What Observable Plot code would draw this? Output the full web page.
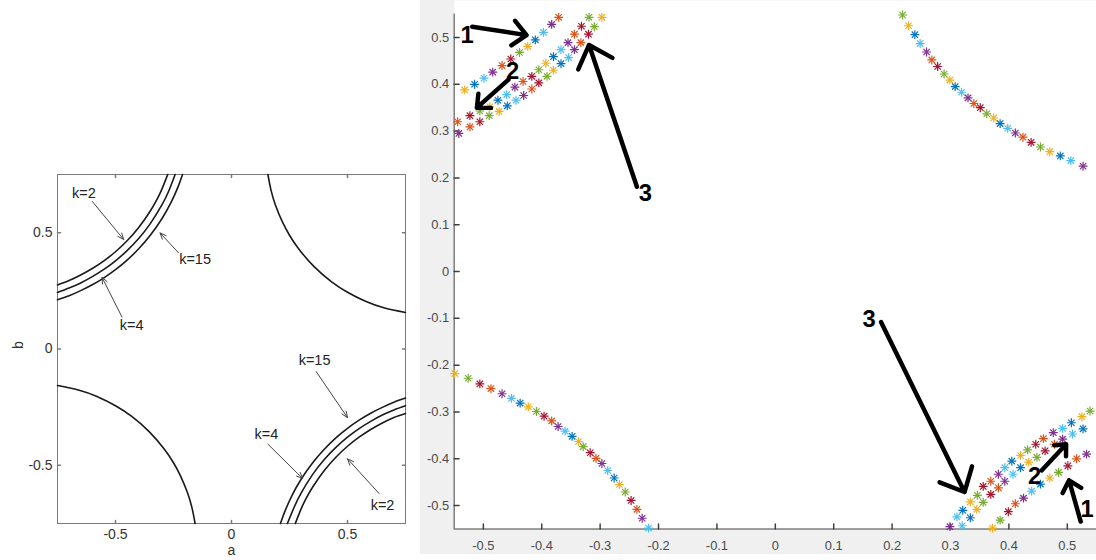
<!DOCTYPE html>
<html><head><meta charset="utf-8">
<script src="https://cdn.jsdelivr.net/npm/d3@7"></script>
<script src="https://cdn.jsdelivr.net/npm/@observablehq/plot@0.6"></script>
<style>
html,body{margin:0;padding:0;width:1096px;height:560px;overflow:hidden;background:#fff;font-family:"Liberation Sans",Arial,sans-serif;}
#left{position:absolute;left:0;top:150px;}
#right{position:absolute;left:420px;top:0;}
</style></head><body>
<div id="left"></div><div id="right"></div>
<script>
// ---------- LEFT PANEL DATA ----------
const leftTicks = [-0.5, 0, 0.5];
const leftTickLabels = ["-0.5", "0", "0.5"];

// single curves (a, b)
const curveTR_a = [0.157, 0.17, 0.19, 0.22, 0.25, 0.29, 0.355, 0.43, 0.50, 0.58, 0.66, 0.75];
const curveTR_b = [0.75, 0.684, 0.617, 0.545, 0.489, 0.43, 0.355, 0.29, 0.244, 0.204, 0.176, 0.157];
const curveBL_a = [-0.75, -0.66, -0.58, -0.50, -0.43, -0.355, -0.29, -0.25, -0.22, -0.19, -0.17, -0.157];
const curveBL_b = [-0.157, -0.176, -0.204, -0.244, -0.29, -0.355, -0.43, -0.489, -0.545, -0.617, -0.684, -0.75];

// three-curve family, top-left (k=2 nearest the corner)
const tlOuter_a = [-0.75, -0.70, -0.65, -0.60, -0.55, -0.50, -0.45, -0.40, -0.35, -0.32, -0.30, -0.275];
const tlOuter_b = [0.275, 0.294, 0.318, 0.346, 0.379, 0.418, 0.465, 0.522, 0.593, 0.645, 0.687, 0.75];
const tlMid_a = [-0.75, -0.70, -0.65, -0.60, -0.55, -0.50, -0.45, -0.40, -0.35, -0.30, -0.27, -0.243];
const tlMid_b = [0.243, 0.262, 0.284, 0.311, 0.342, 0.379, 0.423, 0.475, 0.539, 0.619, 0.680, 0.75];
const tlInner_a = [-0.75, -0.70, -0.65, -0.60, -0.55, -0.50, -0.45, -0.40, -0.35, -0.30, -0.26, -0.23, -0.211];
const tlInner_b = [0.212, 0.229, 0.251, 0.276, 0.306, 0.341, 0.382, 0.431, 0.489, 0.560, 0.631, 0.698, 0.75];
// three-curve family, bottom-right
const brOuter_a = [0.275, 0.30, 0.32, 0.35, 0.40, 0.45, 0.50, 0.55, 0.60, 0.65, 0.70, 0.75];
const brOuter_b = [-0.75, -0.687, -0.645, -0.593, -0.522, -0.465, -0.418, -0.379, -0.346, -0.318, -0.294, -0.277];
const brMid_a = [0.241, 0.27, 0.30, 0.35, 0.40, 0.45, 0.50, 0.55, 0.60, 0.65, 0.70, 0.75];
const brMid_b = [-0.75, -0.680, -0.619, -0.539, -0.475, -0.423, -0.379, -0.342, -0.311, -0.284, -0.262, -0.244];
const brInner_a = [0.211, 0.23, 0.26, 0.30, 0.35, 0.40, 0.45, 0.50, 0.55, 0.60, 0.65, 0.70, 0.75];
const brInner_b = [-0.75, -0.698, -0.631, -0.560, -0.489, -0.431, -0.382, -0.341, -0.306, -0.276, -0.251, -0.229, -0.211];

const leftNoteText = ["k=2", "k=15", "k=4", "k=15", "k=4", "k=2"];
const leftNoteX = [-0.636, -0.157, -0.43, 0.358, 0.15, 0.651];
const leftNoteY = [0.67, 0.386, 0.102, -0.047, -0.366, -0.671];
const leftArrowX1 = [-0.60, -0.229, -0.472, 0.365, 0.157, 0.636];
const leftArrowY1 = [0.634, 0.414, 0.137, -0.097, -0.409, -0.621];
const leftArrowX2 = [-0.465, -0.308, -0.558, 0.5, 0.307, 0.5];
const leftArrowY2 = [0.471, 0.499, 0.308, -0.295, -0.557, -0.472];

// ---------- RIGHT PANEL DATA ----------
const rightTicks = [-0.5, -0.4, -0.3, -0.2, -0.1, 0, 0.1, 0.2, 0.3, 0.4, 0.5];
const rightTickLabels = ["-0.5", "-0.4", "-0.3", "-0.2", "-0.1", "0", "0.1", "0.2", "0.3", "0.4", "0.5"];
const palette = {B: "#0072BD", O: "#D95319", Y: "#EDB120", P: "#7E2F8E", G: "#77AC30", C: "#4DBEEE", R: "#A2142F"};

const trA = [0.218,0.228,0.239,0.248,0.259,0.268,0.278,0.289,0.299,0.308,0.319,0.330,0.340,0.351,0.362,0.374,0.385,0.398,0.411,0.424,0.438,0.454,0.470,0.488,0.506,0.527];
const trB = [0.548,0.525,0.506,0.487,0.469,0.452,0.438,0.422,0.409,0.395,0.383,0.371,0.359,0.350,0.337,0.328,0.316,0.306,0.296,0.287,0.276,0.266,0.256,0.247,0.237,0.225];
const trColors = "GYBCPORGYBCPORGYBCPORGYBCP";

const blA = [-0.549,-0.526,-0.506,-0.487,-0.468,-0.452,-0.437,-0.423,-0.409,-0.396,-0.383,-0.372,-0.360,-0.348,-0.337,-0.329,-0.317,-0.307,-0.297,-0.287,-0.276,-0.267,-0.257,-0.247,-0.237,-0.228,-0.217];
const blB = [-0.218,-0.228,-0.240,-0.250,-0.261,-0.271,-0.281,-0.289,-0.299,-0.309,-0.319,-0.331,-0.341,-0.352,-0.363,-0.374,-0.387,-0.399,-0.410,-0.425,-0.441,-0.455,-0.471,-0.489,-0.508,-0.527,-0.548];
const blColors = "YGROPCBYGROPCBYGROPCBYGROPC";

const tl1A = [-0.532,-0.515,-0.499,-0.484,-0.468,-0.453,-0.438,-0.424,-0.411,-0.397,-0.383,-0.371];
const tl1B = [0.388,0.400,0.413,0.426,0.440,0.454,0.468,0.481,0.495,0.511,0.528,0.543];
const tl1Colors = "YBCPORGYBCPO";
const tl2A = [-0.544,-0.523,-0.506,-0.489,-0.475,-0.460,-0.446,-0.432,-0.417,-0.405,-0.393,-0.380,-0.367,-0.355,-0.344,-0.332,-0.319];
const tl2B = [0.320,0.333,0.343,0.352,0.366,0.378,0.394,0.406,0.417,0.431,0.445,0.459,0.474,0.489,0.507,0.524,0.543];
const tl2Colors = "ORGYBCPORGYBCPORG";
const tl3A = [-0.542,-0.523,-0.506,-0.490,-0.473,-0.459,-0.444,-0.431,-0.417,-0.405,-0.391,-0.380,-0.367,-0.354,-0.344,-0.333,-0.320,-0.310,-0.297];
const tl3B = [0.295,0.309,0.320,0.333,0.342,0.354,0.366,0.376,0.390,0.403,0.417,0.430,0.444,0.457,0.474,0.489,0.507,0.523,0.543];
const tl3Colors = "PORGYBCPORGYBCPORGY";

const br1A = [0.372,0.385,0.399,0.411,0.425,0.439,0.454,0.470,0.485,0.501,0.516,0.533];
const br1B = [-0.548,-0.531,-0.513,-0.496,-0.484,-0.469,-0.454,-0.441,-0.429,-0.415,-0.400,-0.390];
const br1Colors = "YGROPCBYGROP";
const br3A = [0.299,0.311,0.321,0.334,0.346,0.356,0.369,0.382,0.393,0.405,0.420,0.432,0.446,0.459,0.476,0.492,0.507,0.525,0.539];
const br3B = [-0.545,-0.524,-0.510,-0.492,-0.478,-0.459,-0.448,-0.433,-0.419,-0.405,-0.393,-0.381,-0.369,-0.357,-0.344,-0.335,-0.323,-0.310,-0.298];
const br3Colors = "PCBYGROPCBYGROPCBYG";
const br2A = [0.320,0.334,0.345,0.356,0.369,0.382,0.393,0.407,0.420,0.434,0.448,0.462,0.478,0.492,0.509,0.527];
const br2B = [-0.543,-0.526,-0.508,-0.493,-0.476,-0.462,-0.448,-0.433,-0.419,-0.407,-0.397,-0.383,-0.369,-0.358,-0.347,-0.336];
const br2Colors = "CBYGROPCBYGROPCB";

const numText = ["1", "2", "3", "3", "2", "1"];
const numX = [-0.528, -0.450, -0.2225, 0.1605, 0.444, 0.534];
const numY = [0.504, 0.428, 0.167, -0.103, -0.438, -0.508];
const numArrowX1 = [-0.519, -0.457, -0.237, 0.181, 0.456, 0.523];
const numArrowY1 = [0.523, 0.410, 0.181, -0.108, -0.425, -0.534];
const numArrowX2 = [-0.426, -0.511, -0.319, 0.324, 0.498, 0.503];
const numArrowY2 = [0.505, 0.350, 0.484, -0.471, -0.369, -0.446];

// ---------- BUILD TABLES ----------
const font = '"Liberation Sans", Arial, sans-serif';
function pairs(id, as, bs) { return as.map((a, i) => ({id, a, b: bs[i]})); }
const leftRows = [
  ...pairs("tr", curveTR_a, curveTR_b), ...pairs("bl", curveBL_a, curveBL_b),
  ...pairs("tlo", tlOuter_a, tlOuter_b), ...pairs("tlm", tlMid_a, tlMid_b), ...pairs("tli", tlInner_a, tlInner_b),
  ...pairs("bro", brOuter_a, brOuter_b), ...pairs("brm", brMid_a, brMid_b), ...pairs("bri", brInner_a, brInner_b)
];
const leftNotes = leftNoteText.map((t, i) => ({t, x: leftNoteX[i], y: leftNoteY[i]}));
const leftArrows = leftArrowX1.map((x1, i) => ({x1, y1: leftArrowY1[i], x2: leftArrowX2[i], y2: leftArrowY2[i]}));
const lbl = (ticks, labels) => d => labels[ticks.findIndex(t => Math.abs(t - d) < 1e-9)];
const tickLine = {r: 0, anchor: "start"};

const left = Plot.plot({
  width: 420, height: 410,
  marginLeft: 57, marginRight: 15, marginTop: 24, marginBottom: 37,
  x: {domain: [-0.75, 0.75]}, y: {domain: [-0.75, 0.75]},
  style: {fontFamily: font, fontSize: "14px", color: "#333", background: "white", overflow: "visible"},
  marks: [
    Plot.frame({stroke: "#7a7a7a", strokeWidth: 1}),
    Plot.vector(leftTicks, {x: d => d, frameAnchor: "bottom", length: 3, rotate: 0, stroke: "#7a7a7a", ...tickLine}),
    Plot.vector(leftTicks, {x: d => d, frameAnchor: "top", length: 3, rotate: 180, stroke: "#7a7a7a", ...tickLine}),
    Plot.vector(leftTicks, {y: d => d, frameAnchor: "left", length: 3, rotate: 90, stroke: "#7a7a7a", ...tickLine}),
    Plot.vector(leftTicks, {y: d => d, frameAnchor: "right", length: 3, rotate: 270, stroke: "#7a7a7a", ...tickLine}),
    Plot.axisX({ticks: leftTicks, tickSize: 0, tickPadding: 6, tickFormat: lbl(leftTicks, leftTickLabels), label: null}),
    Plot.axisY({ticks: leftTicks, tickSize: 0, tickPadding: 5, tickFormat: lbl(leftTicks, leftTickLabels), label: null}),
    Plot.line(leftRows, {x: "a", y: "b", z: "id", curve: "natural", stroke: "#1a1a1a", strokeWidth: 1.6}),
    Plot.arrow(leftArrows, {x1: "x1", y1: "y1", x2: "x2", y2: "y2", stroke: "#444", strokeWidth: 1, headLength: 10, headAngle: 45}),
    Plot.text(leftNotes, {x: "x", y: "y", text: "t", fontSize: 14.5, fill: "#222"}),
    Plot.text(["a"], {text: d => d, frameAnchor: "bottom", dy: 31, fontSize: 14, fill: "#333"}),
    Plot.text(["b"], {text: d => d, frameAnchor: "left", dx: -39, rotate: -90, fontSize: 14, fill: "#333"})
  ]
});
document.getElementById("left").append(left);

function stars(as, bs, cs) { return as.map((a, i) => ({a, b: bs[i], c: palette[cs[i]]})); }
const starRows = [
  ...stars(trA, trB, trColors), ...stars(blA, blB, blColors),
  ...stars(tl1A, tl1B, tl1Colors), ...stars(tl2A, tl2B, tl2Colors), ...stars(tl3A, tl3B, tl3Colors),
  ...stars(br1A, br1B, br1Colors), ...stars(br2A, br2B, br2Colors), ...stars(br3A, br3B, br3Colors)
];
const nums = numText.map((t, i) => ({t, x: numX[i], y: numY[i]}));
const numArrows = numArrowX1.map((x1, i) => ({x1, y1: numArrowY1[i], x2: numArrowX2[i], y2: numArrowY2[i]}));

const right = Plot.plot({
  width: 683, height: 560,
  marginLeft: 34, marginRight: 0, marginTop: 0, marginBottom: 26,
  x: {domain: [-0.55, 0.55]}, y: {domain: [-0.55, 0.579]},
  color: {type: "identity"},
  style: {fontFamily: font, fontSize: "13px", color: "#4a4a4a", background: "#f0f0f0", overflow: "visible"},
  marks: [
    Plot.frame({fill: "white"}),
    Plot.ruleX([-0.55], {y1: -0.55, y2: 0.55, stroke: "#404040"}),
    Plot.ruleY([-0.55], {stroke: "#404040"}),
    Plot.vector(rightTicks, {x: d => d, frameAnchor: "bottom", length: 5, rotate: 0, stroke: "#404040", ...tickLine}),
    Plot.vector(rightTicks, {y: d => d, frameAnchor: "left", length: 5, rotate: 90, stroke: "#404040", ...tickLine}),
    Plot.axisX({ticks: rightTicks, tickSize: 0, tickPadding: 12, tickFormat: lbl(rightTicks, rightTickLabels), label: null}),
    Plot.axisY({ticks: rightTicks, tickSize: 0, tickPadding: 5, tickFormat: lbl(rightTicks, rightTickLabels), label: null}),
    Plot.dot(starRows, {x: "a", y: "b", stroke: "c", symbol: "plus", r: 3.0, strokeWidth: 1.2}),
    Plot.dot(starRows, {x: "a", y: "b", stroke: "c", symbol: "times", r: 3.0, strokeWidth: 1.2}),
    Plot.arrow(numArrows, {x1: "x1", y1: "y1", x2: "x2", y2: "y2", stroke: "black", strokeWidth: 4.5, headLength: 9, headAngle: 85, strokeLinecap: "round", strokeLinejoin: "round"}),
    Plot.text(nums, {x: "x", y: "y", text: "t", fontSize: 24, fontWeight: "bold", fill: "black"})
  ]
});
document.getElementById("right").append(right);
</script></body></html>
